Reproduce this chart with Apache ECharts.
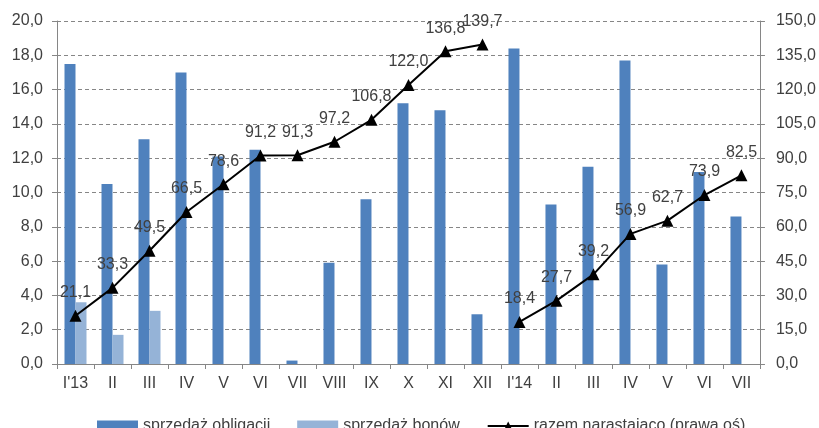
<!DOCTYPE html>
<html lang="pl">
<head>
    <meta charset="UTF-8">
    <title>Sprzedaż obligacji i bonów</title>
    <script src="https://cdn.jsdelivr.net/npm/echarts@6/dist/echarts.min.js"></script>
    <style>
        html, body { margin: 0; padding: 0; background: #fff; }
    </style>
</head>
<body>
<div id="main" style="width:819px;height:428px;"></div>
<script>
    // miesiące
    var kategorie = ["I'13", 'II', 'III', 'IV', 'V', 'VI', 'VII', 'VIII', 'IX', 'X', 'XI', 'XII',
                     "I'14", 'II', 'III', 'IV', 'V', 'VI', 'VII'];
    // sprzedaż obligacji (lewa oś)
    var obligacje = [17.5, 10.5, 13.1, 17.0, 12.1, 12.5, 0.2, 5.9, 9.6, 15.2, 14.8, 2.9,
                     18.4, 9.3, 11.5, 17.7, 5.8, 11.2, 8.6];
    // sprzedaż bonów (lewa oś)
    var bony = [3.6, 1.7, 3.1, '-', '-', '-', '-', '-', '-', '-', '-', '-',
                '-', '-', '-', '-', '-', '-', '-'];
    // razem narastająco (prawa oś), osobno dla każdego roku
    var razem2013 = [21.1, 33.3, 49.5, 66.5, 78.6, 91.2, 91.3, 97.2, 106.8, 122.0, 136.8, 139.7];
    var razem2014 = [18.4, 27.7, 39.2, 56.9, 62.7, 73.9, 82.5];

    var linia2013 = razem2013.concat(razem2014.map(function () { return '-'; }));
    var linia2014 = razem2013.map(function () { return '-'; }).concat(razem2014);

    var fmt = function (v) { return Number(v).toFixed(1).replace('.', ','); };
    var szary = '#868686';
    var tekst = '#404040';
    var font = 'Liberation Sans';
    var nazwaLinii = 'razem narastajaco (prawa oś)';

    var lineLabel = {
        show: true,
        position: 'top',
        distance: 9,
        color: tekst,
        fontSize: 16,
        fontFamily: font,
        formatter: function (p) { return fmt(p.value); }
    };

    var myChart = echarts.init(document.getElementById('main'));
    myChart.setOption({
        animation: false,
        textStyle: {fontFamily: font},
        grid: {left: 57, right: 58, top: 21, bottom: 64, containLabel: false},
        legend: {
            left: 92,
            top: 413,
            itemWidth: 41,
            itemHeight: 11,
            itemGap: 27,
            textStyle: {color: tekst, fontSize: 16, fontFamily: font},
            data: [
                {name: 'sprzedaż obligacji', icon: 'rect'},
                {name: 'sprzedaż bonów', icon: 'rect'},
                {name: nazwaLinii}
            ]
        },
        xAxis: {
            type: 'category',
            data: kategorie,
            axisLine: {lineStyle: {color: szary}},
            axisTick: {show: true, length: 5, lineStyle: {color: szary}},
            axisLabel: {color: tekst, fontSize: 16, fontFamily: font, margin: 12, interval: 0}
        },
        yAxis: [
            {
                type: 'value',
                min: 0,
                max: 20,
                interval: 2,
                axisLine: {show: true, lineStyle: {color: szary}},
                axisTick: {show: true, length: 5, lineStyle: {color: szary}},
                axisLabel: {color: tekst, fontSize: 16, fontFamily: font, margin: 14, formatter: fmt},
                splitLine: {show: true, lineStyle: {color: szary, type: [4, 3], width: 1}}
            },
            {
                type: 'value',
                min: 0,
                max: 150,
                interval: 15,
                axisLine: {show: true, lineStyle: {color: szary}},
                axisTick: {show: true, length: 5, lineStyle: {color: szary}},
                axisLabel: {color: tekst, fontSize: 16, fontFamily: font, margin: 16, formatter: fmt},
                splitLine: {show: false}
            }
        ],
        series: [
            {
                name: 'sprzedaż obligacji',
                type: 'bar',
                barWidth: 11,
                barGap: '0%',
                itemStyle: {color: '#4F81BD'},
                data: obligacje
            },
            {
                name: 'sprzedaż bonów',
                type: 'bar',
                barWidth: 11,
                barGap: '0%',
                itemStyle: {color: '#95B3D7'},
                data: bony
            },
            {
                name: nazwaLinii,
                type: 'line',
                yAxisIndex: 1,
                symbol: 'triangle',
                symbolSize: 12,
                itemStyle: {color: '#000'},
                lineStyle: {color: '#000', width: 2},
                label: lineLabel,
                z: 5,
                data: linia2013
            },
            {
                name: nazwaLinii,
                type: 'line',
                yAxisIndex: 1,
                symbol: 'triangle',
                symbolSize: 12,
                itemStyle: {color: '#000'},
                lineStyle: {color: '#000', width: 2},
                label: lineLabel,
                z: 5,
                data: linia2014
            }
        ]
    });
</script>
</body>
</html>
